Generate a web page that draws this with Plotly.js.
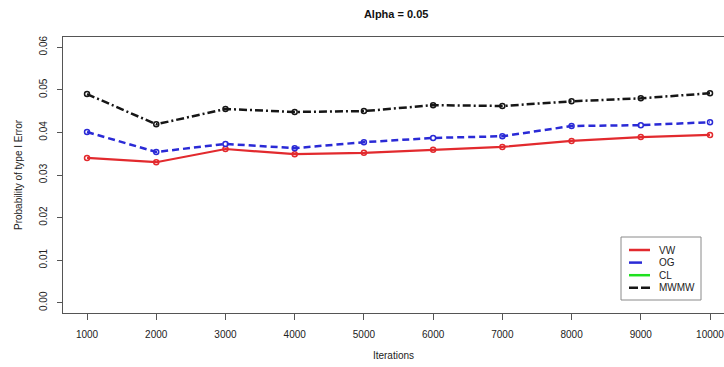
<!DOCTYPE html>
<html>
<head>
<meta charset="utf-8">
<script src="https://cdn.plot.ly/plotly-3.0.1.min.js"></script>
<style>html,body{margin:0;padding:0;background:#fff;}#chart{width:724px;height:367px;}</style>
</head>
<body>
<div id="chart"></div>
<script>
// Simulated type I error rates by number of iterations
const iterations = [1000, 2000, 3000, 4000, 5000, 6000, 7000, 8000, 9000, 10000];
const vw   = [0.0340, 0.0330, 0.0361, 0.0349, 0.0352, 0.0359, 0.0366, 0.0380, 0.0389, 0.0394];
const og   = [0.0401, 0.0354, 0.0373, 0.0363, 0.0377, 0.0387, 0.0391, 0.0415, 0.0417, 0.0424];
const cl   = [null, null, null, null, null, null, null, null, null, null];
const mwmw = [0.0490, 0.0419, 0.0455, 0.0448, 0.0450, 0.0464, 0.0462, 0.0473, 0.0480, 0.0492];
const seriesNames = ['VW', 'OG', 'CL', 'MWMW'];
const yTicks = [0.00, 0.01, 0.02, 0.03, 0.04, 0.05, 0.06];
const yTickText = ['0.00', '0.01', '0.02', '0.03', '0.04', '0.05', '0.06'];

const W = 724, H = 367;
const M = {l: 63, r: 0, t: 37, b: 54};
const plotW = W - M.l - M.r, plotH = H - M.t - M.b;

const styles = [
  {color: '#e22a2e', width: 2.2, dash: 'solid',          legendDash: 'solid'},
  {color: '#2a2ad6', width: 2.5, dash: '7px,4px',        legendDash: '13px,30px'},
  {color: '#1fe01f', width: 2.5, dash: 'solid',          legendDash: 'solid'},
  {color: '#161616', width: 2.5, dash: '8px,3px,2px,3px', legendDash: '9px,3px'}
];
const values = [vw, og, cl, mwmw];

const traces = values.map((vals, i) => ({
  x: iterations, y: vals, type: 'scatter', mode: 'lines+markers', name: seriesNames[i],
  showlegend: false, hoverinfo: 'skip',
  line: {color: styles[i].color, width: styles[i].width, dash: styles[i].dash},
  marker: {symbol: 'circle-open', size: 5, color: styles[i].color, line: {width: 1.5, color: styles[i].color}}
}));

// Boxed key in the lower right corner (pixel offsets converted to paper units)
const px = x => (x - M.l) / plotW;
const py = y => (M.t + plotH - y) / plotH;
const shapes = [{
  type: 'rect', xref: 'paper', yref: 'paper',
  x0: px(621), x1: px(701), y0: py(237), y1: py(300),
  line: {color: '#8a8a8a', width: 1}, fillcolor: '#ffffff', layer: 'above'
}];
const annotations = [];
seriesNames.forEach((name, i) => {
  const yy = 250 + i * 12.6;
  shapes.push({
    type: 'line', xref: 'paper', yref: 'paper',
    x0: px(629), x1: px(650), y0: py(yy), y1: py(yy),
    line: {color: styles[i].color, width: 2.5, dash: styles[i].legendDash}, layer: 'above'
  });
  annotations.push({
    xref: 'paper', yref: 'paper', x: px(657), y: py(yy), xanchor: 'left', yanchor: 'middle',
    text: name, showarrow: false, font: {size: 10, color: '#222'}
  });
});

const layout = {
  width: W, height: H,
  margin: M,
  paper_bgcolor: '#ffffff', plot_bgcolor: '#ffffff',
  font: {family: 'Liberation Sans, Arial, sans-serif', color: '#222', size: 10},
  title: {text: '<b>Alpha = 0.05</b>', x: 0.504, xref: 'paper', xanchor: 'center',
          y: 1 - 14 / H, yref: 'container', yanchor: 'middle', font: {size: 11, color: '#111'}},
  xaxis: {
    range: [653, 10202], tickvals: iterations, ticktext: iterations.map(String),
    showgrid: false, zeroline: false, showline: true, mirror: true, linecolor: '#555', linewidth: 1,
    ticks: 'outside', ticklen: 6, tickcolor: '#555', ticklabelstandoff: 6,
    ticklabeloverflow: 'allow',
    tickfont: {size: 10, color: '#222'},
    title: {text: 'Iterations', font: {size: 10, color: '#222'}, standoff: 12}
  },
  yaxis: {
    range: [-0.0024, 0.0624], tickvals: yTicks, ticktext: yTickText, tickangle: -90,
    showgrid: false, zeroline: false, showline: true, linecolor: '#555', linewidth: 1,
    ticks: 'outside', ticklen: 5, tickcolor: '#555', ticklabelstandoff: 6,
    tickfont: {size: 10, color: '#222'},
    title: {text: 'Probability of type I Error', font: {size: 10, color: '#222'}, standoff: 13}
  },
  shapes: shapes,
  annotations: annotations,
  showlegend: false
};

Plotly.newPlot('chart', traces, layout, {displayModeBar: false, staticPlot: true});
</script>
</body>
</html>
